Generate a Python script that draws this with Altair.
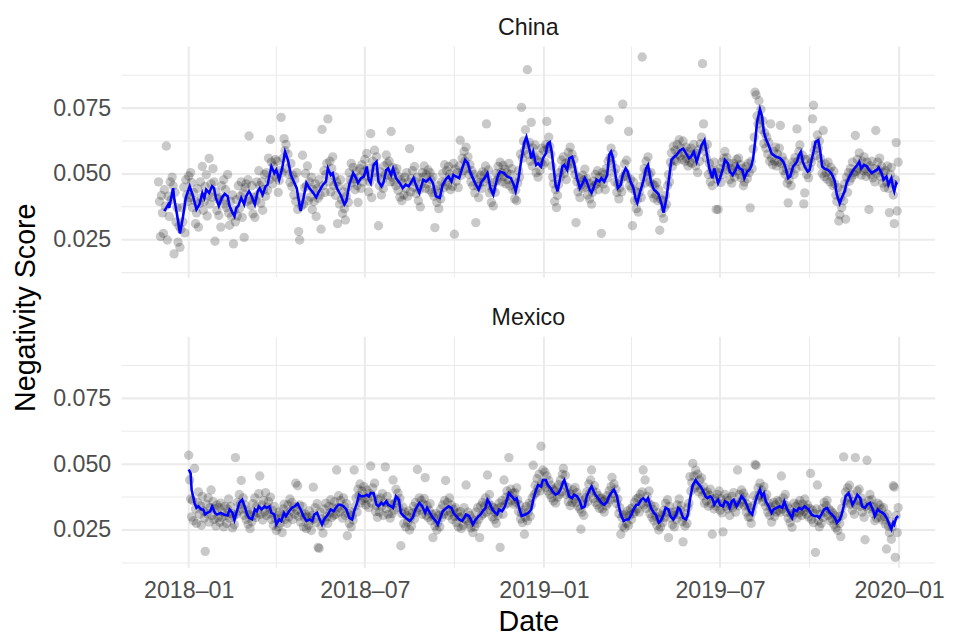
import altair as alt
import pandas as pd

# ---------------- daily negativity scores (x 1e-4) ----------------
cn_2017_12 = [470,395,262,418,352,274,440,377,606,249,415,338,470,402,488,455,196,430,318,372,241,301,221,290,372,318,450,276,478,420,395]
cn_2018_01 = [492,410,505,468,372,430,398,311,352,445,298,388,470,410,528,362,395,452,497,340,418,559,385,462,412,520,470,244,432,361,405]
cn_2018_02 = [342,410,298,455,402,478,385,440,372,498,352,305,395,338,420,234,362,318,402,340,455,368,415,470,335,428,259,448]
cn_2018_03 = [462,395,478,644,402,380,455,348,412,335,398,470,420,512,455,388,470,362,440,498,415,505,438,560,478,631,545,462,530,495,555]
cn_2018_04 = [488,548,430,475,512,715,505,560,634,588,612,520,575,498,468,540,452,495,420,478,395,505,365,281,249,412,378,571,385,448]
cn_2018_05 = [502,455,530,398,470,412,488,365,440,395,462,338,445,408,478,420,290,669,455,512,430,498,540,709,470,548,432,520,565,455,490]
cn_2018_06 = [418,470,311,452,385,478,402,350,432,368,325,415,450,392,505,478,540,468,525,482,440,510,455,392,488,520,445,535,470,508]
cn_2018_07 = [555,492,578,520,432,470,653,410,548,505,590,530,565,488,303,455,508,420,478,445,530,498,572,540,495,548,470,661,488,525,470]
cn_2018_08 = [508,455,520,438,490,412,478,398,465,420,488,445,505,415,470,596,432,482,512,450,528,470,425,488,398,440,375,462,505,488,530]
cn_2018_09 = [445,498,462,515,440,505,478,430,488,415,296,440,392,455,368,428,405,470,502,448,535,470,512,455,528,498,440,485,452,540]
cn_2018_10 = [271,518,472,505,448,530,628,495,560,512,585,548,602,520,565,498,535,470,512,455,498,428,315,480,452,410,468,495,445,508,470]
cn_2018_11 = [498,530,690,482,515,428,455,392,440,378,468,430,502,475,528,488,545,505,470,532,490,518,462,505,478,540,455,498,520,440]
cn_2018_12 = [470,405,438,398,465,512,488,575,753,560,625,590,668,612,896,575,620,548,696,530,598,565,610,505,552,488,570,512,545,598,535]
cn_2019_01 = [588,545,612,699,595,640,605,575,530,488,462,395,440,372,418,460,505,488,552,518,565,502,540,478,530,582,548,602,538,575,520]
cn_2019_02 = [555,498,315,470,432,485,410,458,445,495,478,518,450,482,420,465,405,448,385,430,472,455,498,462,512,440,488,470]
cn_2019_03 = [274,505,462,498,440,520,485,548,706,562,598,540,575,505,470,520,430,462,405,448,478,432,765,490,538,505,552,488,661,455,480]
cn_2019_04 = [445,303,470,398,435,368,402,355,430,452,410,944,488,520,465,548,510,565,498,470,505,425,460,408,455,420,468,398,440,286]
cn_2019_05 = [405,352,398,330,372,418,385,455,498,470,545,580,528,605,552,590,548,612,575,630,568,598,555,625,580,548,602,560,530,585,545]
cn_2019_06 = [598,540,575,612,560,530,578,505,592,548,615,640,919,690,605,585,560,612,498,540,470,515,455,498,545,512,365,480,365,505]
cn_2019_07 = [520,468,545,498,560,585,530,562,515,540,478,520,465,505,540,488,528,555,512,560,498,535,485,520,455,470,505,528,482,540,505]
cn_2019_08 = [371,548,520,595,640,811,800,720,690,778,705,745,668,702,615,655,598,640,575,620,548,690,560,535,585,548,602,530,575,545,598]
cn_2019_09 = [684,540,565,512,548,498,520,465,390,478,505,455,530,545,498,562,520,671,548,585,610,560,528,570,386,428,555,498,530,485]
cn_2019_10 = [520,558,545,709,761,590,612,570,648,598,625,560,535,502,665,490,538,505,480,545,512,470,525,488,455,510,462,420,395,448,321]
cn_2019_11 = [345,410,372,440,398,462,328,488,430,505,472,520,485,545,505,498,646,510,555,520,580,530,495,548,512,565,520,490,545,508]
cn_2019_12 = [365,530,498,548,485,520,470,665,502,545,515,560,490,528,465,505,448,512,470,530,445,353,498,525,465,420,311,478,619,359,545]

mx_2018_01 = [534,440,368,300,362,285,484,330,275,355,395,310,342,268,378,322,295,169,348,312,372,280,335,402,305,358,290,330,265,345,298]
mx_2018_02 = [335,280,352,298,318,262,340,305,275,330,368,295,340,312,258,302,270,525,310,355,322,385,348,438,330,372,305,345]
mx_2018_03 = [290,325,272,308,255,318,282,350,305,372,298,340,315,388,455,310,345,288,362,320,392,305,338,358,312,375,290,325,268,340,295]
mx_2018_04 = [248,305,262,318,275,295,240,330,348,290,312,275,345,300,368,322,355,290,338,310,428,325,418,302,345,280,315,340,262,298]
mx_2018_05 = [310,255,300,268,322,285,248,305,413,292,335,278,350,184,180,318,265,292,238,330,285,352,300,275,340,315,365,298,335,305,358]
mx_2018_06 = [310,478,335,380,318,362,330,295,372,340,305,350,228,312,275,320,262,305,288,478,340,372,318,405,380,425,352,398,362,415]
mx_2018_07 = [370,345,402,368,335,388,493,352,410,375,428,320,342,298,365,318,372,340,388,305,355,490,332,378,310,352,295,345,312,440,325]
mx_2018_08 = [352,405,362,390,335,370,190,312,338,275,318,262,305,280,322,250,298,265,315,340,292,355,318,480,335,372,325,362,310,348,370]
mx_2018_09 = [449,305,342,298,325,350,285,310,221,298,265,312,250,278,305,262,330,298,345,310,362,438,322,355,305,372,318,345,290,328]
mx_2018_10 = [302,335,278,315,262,298,320,255,302,268,335,292,421,285,318,272,305,258,292,240,285,262,318,275,335,290,221,342,305,355,312]
mx_2018_11 = [340,372,318,459,352,385,325,342,300,335,290,318,275,332,305,352,184,338,362,310,440,345,375,398,352,525,380,405,362,390]
mx_2018_12 = [348,392,355,410,365,320,345,292,315,278,325,234,298,340,285,318,352,302,345,372,496,385,420,392,445,410,462,398,568,430,478]
mx_2019_01 = [425,470,412,455,398,438,385,420,372,405,360,398,352,410,375,422,385,440,395,462,484,420,458,385,412,358,390,342,385,355,402]
mx_2019_02 = [368,412,355,392,340,375,330,253,318,362,305,348,372,395,358,425,390,440,478,402,370,418,355,392,345,380,332,368]
mx_2019_03 = [372,330,358,318,365,342,380,352,398,365,415,450,388,425,372,405,350,368,312,335,234,298,265,305,258,310,275,322,268,305,330]
mx_2019_04 = [290,335,312,355,320,368,330,372,318,385,350,395,478,345,440,332,378,355,398,312,345,298,328,285,340,302,268,315,250,292]
mx_2019_05 = [262,305,278,325,298,352,318,365,221,340,295,318,270,305,262,320,290,345,310,368,325,342,282,205,298,265,312,275,335,352,453]
mx_2019_06 = [398,430,503,455,410,478,420,462,395,440,405,448,380,415,352,390,360,395,340,382,405,350,234,368,330,372,340,385,352,398]
mx_2019_07 = [325,368,315,243,352,385,340,372,330,362,305,342,378,335,392,350,318,355,478,342,385,352,402,365,390,342,375,318,348,300,335]
mx_2019_08 = [298,275,318,342,380,499,495,365,410,382,428,375,402,358,415,372,340,385,318,352,305,338,280,325,355,302,345,318,362,325,358]
mx_2019_09 = [318,455,330,372,345,385,318,342,295,330,278,312,260,305,352,318,340,295,348,315,362,325,305,348,320,368,335,310,345,300]
mx_2019_10 = [332,465,290,325,278,312,165,330,421,285,262,310,275,332,298,355,318,342,362,305,330,285,322,292,315,270,305,258,285,248,302]
mx_2019_11 = [275,225,332,305,528,360,395,352,410,375,420,348,385,325,358,310,525,345,398,362,405,340,372,318,352,298,213,340,515,330]
mx_2019_12 = [362,385,340,365,312,338,285,320,295,352,318,345,298,330,288,335,302,272,178,310,265,240,282,215,262,418,413,146,305,240,335]

# ---------------- rolling-average line (day offset from 2018-01-01, value x 1e-4) ----------------
cn_line = [(-25,359),(-21,384),(-20,371),(-16,446),(-15,409),(-12,346),(-9,274),(-6,334),(-3,409),(1,453),(4,421),(8,365),(11,384),(14,428),(16,409),(18,440),(21,428),(24,453),(26,446),(28,409),(31,378),(34,409),(37,424),(40,415),(42,378),(45,353),(47,340),(49,371),(51,378),(54,409),(57,384),(59,415),(62,434),(64,421),(68,384),(71,434),(73,446),(76,421),(79,453),(81,459),(85,528),(88,503),(90,515),(93,478),(96,521),(99,584),(102,553),(105,496),(108,471),(111,446),(113,403),(115,359),(118,409),(121,465),(124,446),(128,428),(131,411),(134,434),(138,459),(141,471),(143,521),(146,496),(148,503),(150,471),(153,440),(156,421),(160,384),(162,396),(165,459),(169,503),(172,484),(174,465),(177,484),(180,490),(183,528),(185,478),(187,465),(190,534),(193,546),(195,471),(198,453),(200,465),(203,515),(205,521),(208,496),(210,521),(213,484),(217,465),(220,446),(223,459),(226,453),(228,465),(231,484),(234,453),(237,428),(241,478),(244,471),(248,484),(251,465),(254,415),(258,409),(261,459),(265,484),(267,490),(270,471),(272,496),(275,490),(278,484),(281,521),(284,553),(287,540),(289,509),(292,484),(295,459),(298,440),(301,471),(304,484),(307,503),(310,446),(313,421),(315,453),(318,496),(320,509),(324,503),(327,490),(331,484),(334,459),(336,434),(339,484),(342,559),(345,621),(347,640),(350,596),(352,559),(354,584),(357,534),(359,540),(362,528),(364,559),(367,578),(369,615),(371,621),(373,584),(375,521),(377,459),(379,434),(381,471),(384,528),(386,534),(389,515),(391,559),(394,565),(396,540),(399,484),(402,446),(404,459),(407,484),(409,471),(412,440),(414,428),(417,459),(419,478),(422,471),(424,484),(427,471),(430,496),(432,571),(434,584),(436,559),(439,484),(441,446),(444,459),(446,496),(449,521),(451,509),(454,471),(457,446),(459,409),(461,390),(464,434),(467,471),(470,521),(472,534),(475,471),(478,440),(480,434),(483,421),(486,384),(488,353),(491,409),(494,496),(496,553),(499,565),(501,571),(505,590),(508,596),(511,578),(514,559),(516,565),(519,584),(522,546),(524,571),(527,609),(530,628),(532,584),(535,521),(538,484),(540,521),(544,465),(546,484),(549,521),(551,553),(554,540),(556,509),(559,496),(562,515),(564,534),(566,521),(569,515),(571,484),(574,509),(576,515),(578,528),(580,559),(582,621),(584,696),(587,746),(589,721),(591,659),(593,634),(596,609),(599,578),(601,571),(604,565),(608,559),(611,546),(613,528),(616,484),(618,490),(621,528),(625,546),(627,571),(629,584),(631,546),(633,528),(636,509),(638,515),(640,553),(642,584),(644,621),(647,628),(649,584),(651,528),(653,521),(657,515),(660,503),(662,490),(664,471),(666,421),(669,388),(671,409),(674,434),(676,465),(679,490),(681,503),(684,521),(687,534),(689,546),(691,521),(694,534),(697,528),(699,515),(702,503),(704,509),(707,515),(709,524),(712,503),(714,478),(717,490),(719,459),(722,484),(724,446),(725,434),(727,465),(728,459)]

mx_line = [(0,480),(2,465),(3,403),(6,353),(8,334),(10,340),(13,328),(15,328),(17,309),(19,315),(22,321),(24,340),(27,315),(29,309),(33,315),(36,309),(40,305),(42,328),(45,315),(47,288),(50,328),(52,353),(55,365),(58,334),(60,309),(62,296),(65,290),(68,328),(70,321),(72,340),(75,328),(78,340),(80,334),(83,340),(85,315),(88,309),(90,271),(93,290),(95,284),(98,315),(100,303),(103,321),(106,334),(109,340),(112,350),(115,328),(118,303),(121,284),(124,290),(127,284),(129,309),(132,315),(134,296),(137,271),(139,290),(143,309),(146,328),(149,321),(151,334),(154,346),(156,346),(159,340),(162,328),(165,296),(168,290),(170,321),(173,353),(175,384),(177,378),(180,378),(183,384),(185,378),(187,390),(190,390),(193,346),(195,340),(198,353),(200,346),(203,359),(205,346),(208,340),(210,334),(213,378),(216,365),(218,315),(221,303),(223,296),(227,284),(230,296),(233,328),(237,353),(240,340),(243,315),(245,334),(248,315),(251,296),(254,284),(256,271),(258,290),(261,321),(265,334),(267,340),(270,334),(272,315),(275,303),(278,290),(281,284),(285,309),(288,303),(290,290),(292,271),(295,290),(298,303),(300,309),(302,321),(305,334),(307,365),(309,353),(312,328),(315,315),(317,309),(319,328),(322,321),(325,340),(327,365),(329,390),(332,378),(335,365),(337,371),(340,328),(342,303),(346,309),(349,315),(352,328),(354,365),(357,403),(359,421),(362,415),(364,440),(367,440),(369,421),(372,409),(374,396),(377,384),(380,390),(382,403),(385,434),(386,440),(389,403),(391,378),(394,371),(396,384),(399,378),(402,359),(404,334),(407,340),(409,378),(412,403),(414,415),(417,390),(419,378),(422,365),(424,353),(427,346),(430,359),(432,378),(434,390),(437,403),(440,378),(442,340),(444,309),(447,284),(450,290),(452,290),(455,309),(457,328),(460,346),(462,346),(465,365),(467,371),(470,359),(472,371),(475,334),(478,315),(480,309),(483,278),(485,284),(488,309),(490,334),(493,328),(495,303),(498,290),(501,309),(503,334),(505,328),(508,296),(511,290),(513,309),(515,365),(518,421),(521,440),(523,428),(526,415),(528,403),(531,378),(533,371),(536,378),(538,371),(540,346),(541,353),(544,365),(546,346),(549,340),(551,359),(554,353),(556,334),(558,359),(560,365),(563,340),(566,359),(568,378),(571,365),(574,340),(576,321),(579,309),(582,353),(584,378),(587,403),(589,378),(591,390),(593,359),(596,340),(599,315),(601,328),(604,334),(607,340),(610,334),(612,359),(615,328),(617,315),(620,296),(622,328),(625,321),(627,334),(630,328),(633,340),(635,334),(637,328),(640,309),(643,303),(646,303),(648,296),(651,315),(653,328),(656,334),(659,315),(661,309),(664,296),(666,278),(669,290),(671,309),(673,340),(675,378),(678,390),(680,371),(682,346),(685,365),(687,384),(690,371),(692,340),(695,334),(697,346),(700,353),(703,328),(705,303),(708,328),(710,321),(713,315),(715,309),(718,290),(720,271),(722,253),(724,278),(725,271),(727,296),(729,303)]

# axis breaks (labelled majors, unlabelled minors)
x_major = ["2018-01-01", "2018-07-01", "2019-01-01", "2019-07-01", "2020-01-01"]
x_minor = ["2018-04-01", "2018-10-01", "2019-04-01", "2019-10-01"]
y_major = [0.025, 0.05, 0.075]
y_minor = [0.0125, 0.0375, 0.0625, 0.0875]

cn_months = [("2017-12-01", cn_2017_12), ("2018-01-01", cn_2018_01), ("2018-02-01", cn_2018_02),
             ("2018-03-01", cn_2018_03), ("2018-04-01", cn_2018_04), ("2018-05-01", cn_2018_05),
             ("2018-06-01", cn_2018_06), ("2018-07-01", cn_2018_07), ("2018-08-01", cn_2018_08),
             ("2018-09-01", cn_2018_09), ("2018-10-01", cn_2018_10), ("2018-11-01", cn_2018_11),
             ("2018-12-01", cn_2018_12), ("2019-01-01", cn_2019_01), ("2019-02-01", cn_2019_02),
             ("2019-03-01", cn_2019_03), ("2019-04-01", cn_2019_04), ("2019-05-01", cn_2019_05),
             ("2019-06-01", cn_2019_06), ("2019-07-01", cn_2019_07), ("2019-08-01", cn_2019_08),
             ("2019-09-01", cn_2019_09), ("2019-10-01", cn_2019_10), ("2019-11-01", cn_2019_11),
             ("2019-12-01", cn_2019_12)]
mx_months = [("2018-01-01", mx_2018_01), ("2018-02-01", mx_2018_02), ("2018-03-01", mx_2018_03),
             ("2018-04-01", mx_2018_04), ("2018-05-01", mx_2018_05), ("2018-06-01", mx_2018_06),
             ("2018-07-01", mx_2018_07), ("2018-08-01", mx_2018_08), ("2018-09-01", mx_2018_09),
             ("2018-10-01", mx_2018_10), ("2018-11-01", mx_2018_11), ("2018-12-01", mx_2018_12),
             ("2019-01-01", mx_2019_01), ("2019-02-01", mx_2019_02), ("2019-03-01", mx_2019_03),
             ("2019-04-01", mx_2019_04), ("2019-05-01", mx_2019_05), ("2019-06-01", mx_2019_06),
             ("2019-07-01", mx_2019_07), ("2019-08-01", mx_2019_08), ("2019-09-01", mx_2019_09),
             ("2019-10-01", mx_2019_10), ("2019-11-01", mx_2019_11), ("2019-12-01", mx_2019_12)]


def month_points(months):
    frames = []
    for start, vals in months:
        d = pd.date_range(start, periods=len(vals), freq="D")
        frames.append(pd.DataFrame({"date": d, "score": [v / 10000 for v in vals]}))
    return pd.concat(frames, ignore_index=True)


def line_points(pairs):
    base = pd.Timestamp("2018-01-01")
    return pd.DataFrame({"date": [base + pd.Timedelta(days=d) for d, _ in pairs],
                         "score": [v / 10000 for _, v in pairs]})


cn_pts, mx_pts = month_points(cn_months), month_points(mx_months)
cn_ln, mx_ln = line_points(cn_line), line_points(mx_line)

# ggplot-like 5% expansion of the shared scales
all_dates = pd.concat([cn_pts.date, mx_pts.date])
dmin, dmax = all_dates.min(), all_dates.max()
dspan = dmax - dmin
x0, x1 = dmin - dspan * 0.05, dmax + dspan * 0.05
all_vals = pd.concat([cn_pts.score, mx_pts.score])
vmin, vmax = all_vals.min(), all_vals.max()
vspan = vmax - vmin
y_domain = [float(vmin - vspan * 0.05), float(vmax + vspan * 0.05)]


def dt(ts):
    return alt.DateTime(year=int(ts.year), month=int(ts.month), date=int(ts.day), hours=int(ts.hour))


x_domain = [dt(x0), dt(x1)]
x_values = [dt(pd.Timestamp(s)) for s in x_major]

FONT = "Liberation Sans"
GRID = "#EBEBEB"
W, H = 824, 234

xs = alt.Scale(domain=x_domain, nice=False)
ys = alt.Scale(domain=y_domain, nice=False, zero=False)

xmaj_df = pd.DataFrame({"date": pd.to_datetime(x_major)})
xmin_df = pd.DataFrame({"date": pd.to_datetime(x_minor)})
ymaj_df = pd.DataFrame({"score": y_major})
ymin_df = pd.DataFrame({"score": y_minor})


def panel(name, pts, ln, bottom):
    x_axis = alt.Axis(
        values=x_values, grid=False, ticks=False, domain=False, labels=bottom,
        labelExpr="timeFormat(datum.value, '%Y\u2013%m')",
        labelFont=FONT, labelFontSize=23.5, labelColor="#4D4D4D", labelPadding=11,
        labelOverlap=False, labelFlush=False,
        title="Date" if bottom else "",
        titleFont=FONT, titleFontSize=29, titleFontWeight="normal", titleColor="#000000",
        titleBaseline="alphabetic", titleY=63,
    )
    if bottom:
        y_title = dict(title="")
    else:
        y_title = dict(title="Negativity Score", titleX=-88.5, titleY=264,
                       titleBaseline="alphabetic", titleAngle=270)
    y_axis = alt.Axis(
        values=y_major, format=".3f", grid=False, ticks=False, domain=False,
        labelFont=FONT, labelFontSize=23.5, labelColor="#4D4D4D", labelPadding=11,
        labelOverlap=False,
        titleFont=FONT, titleFontSize=29, titleFontWeight="normal", titleColor="#000000",
        **y_title,
    )
    gx_min = alt.Chart(xmin_df).mark_rule(color=GRID, strokeWidth=1.05).encode(
        x=alt.X("date:T", scale=xs, axis=None))
    gx_maj = alt.Chart(xmaj_df).mark_rule(color=GRID, strokeWidth=2.1).encode(
        x=alt.X("date:T", scale=xs, axis=None))
    gy_min = alt.Chart(ymin_df).mark_rule(color=GRID, strokeWidth=1.05).encode(
        y=alt.Y("score:Q", scale=ys, axis=None))
    gy_maj = alt.Chart(ymaj_df).mark_rule(color=GRID, strokeWidth=2.1).encode(
        y=alt.Y("score:Q", scale=ys, axis=None))
    points = alt.Chart(pts).mark_circle(size=90, opacity=0.21, color="#000000").encode(
        x=alt.X("date:T", scale=xs, axis=x_axis),
        y=alt.Y("score:Q", scale=ys, axis=y_axis),
    )
    line = alt.Chart(ln).mark_line(color="#0000FF", strokeWidth=2.6).encode(
        x=alt.X("date:T", scale=xs, axis=None),
        y=alt.Y("score:Q", scale=ys, axis=None),
    )
    return alt.layer(gx_min, gx_maj, gy_min, gy_maj, points, line).resolve_axis(
        x="independent", y="independent"
    ).properties(
        width=W, height=H,
        title=alt.TitleParams(text=name, font=FONT, fontSize=23.5, fontWeight="normal",
                              color="#1A1A1A", anchor="middle", frame="group",
                              baseline="alphabetic", offset=-13),
    )


chart = alt.vconcat(
    panel("China", cn_pts, cn_ln, False),
    panel("Mexico", mx_pts, mx_ln, True),
    spacing=60, bounds="flush",
).properties(
    padding={"left": 3, "top": 4, "right": 0, "bottom": 0},
    background="#FFFFFF",
).configure_view(strokeWidth=0)

chart.save("out.html", embed_options={"renderer": "svg", "actions": False})
